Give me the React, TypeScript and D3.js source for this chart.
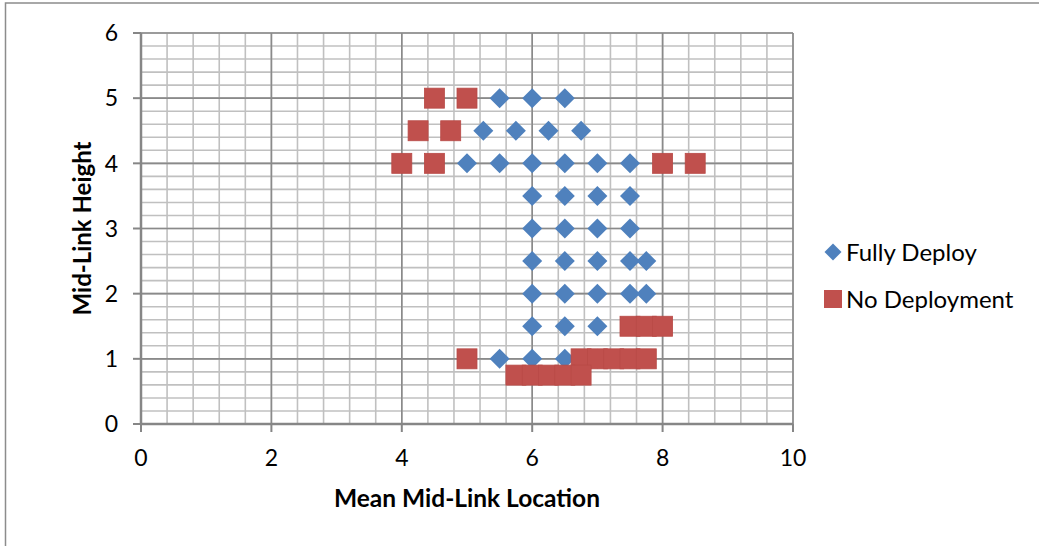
import React from "react";
import * as d3 from "d3";

const fullyDeployX = [5.5, 6, 6.5, 5.25, 5.75, 6.25, 6.75, 5, 5.5, 6, 6.5, 7, 7.5, 6, 6.5, 7, 7.5, 6, 6.5, 7, 7.5, 6, 6.5, 7, 7.5, 7.75, 6, 6.5, 7, 7.5, 7.75, 6, 6.5, 7, 5.5, 6, 6.5, 7, 7.5];
const fullyDeployY = [5, 5, 5, 4.5, 4.5, 4.5, 4.5, 4, 4, 4, 4, 4, 4, 3.5, 3.5, 3.5, 3.5, 3, 3, 3, 3, 2.5, 2.5, 2.5, 2.5, 2.5, 2, 2, 2, 2, 2, 1.5, 1.5, 1.5, 1, 1, 1, 1, 1];

const noDeployX = [4.5, 5, 4.25, 4.75, 4, 4.5, 8, 8.5, 7.5, 7.75, 8, 5, 6.75, 7, 7.25, 7.5, 7.75, 5.75, 6, 6.25, 6.5, 6.75];
const noDeployY = [5, 5, 4.5, 4.5, 4, 4, 4, 4, 1.5, 1.5, 1.5, 1, 1, 1, 1, 1, 1, 0.75, 0.75, 0.75, 0.75, 0.75];

const xTicks = [0, 2, 4, 6, 8, 10];
const yTicks = [0, 1, 2, 3, 4, 5, 6];
const seriesNames = ["Fully Deploy", "No Deployment"];
const xTitle = "Mean Mid-Link Location";
const yTitle = "Mid-Link Height";

const W = 1039;
const H = 546;
const FONT = "Lato, 'Open Sans', sans-serif";

export default function App() {
  const x = d3.scaleLinear().domain([0, 10]).range([141, 793]);
  const y = d3.scaleLinear().domain([0, 6]).range([424, 33]);

  const minorX = d3.range(0, 10.0001, 0.4);
  const minorY = d3.range(0, 6.0001, 0.2);
  const blue = "#4F81BD";
  const red = "#C0504D";
  const dHalf = 10;
  const sq = 20;

  const diamond = (cx: number, cy: number, r: number) =>
    `M${cx},${cy - r}L${cx + r},${cy}L${cx},${cy + r}L${cx - r},${cy}Z`;

  return (
    <svg width={W} height={H} style={{ position: "absolute", left: 0, top: 0, background: "#fff" }} fontFamily={FONT}>
      <rect x={5.5} y={3} width={W + 10} height={H + 10} fill="#fff" stroke="#8c8c8c" strokeWidth={1.5} />
      {/* minor grid */}
      {minorX.map((v, i) => (
        <line key={"mx" + i} x1={x(v)} x2={x(v)} y1={y(0)} y2={y(6)} stroke="#c0c0c0" strokeWidth={1.6} />
      ))}
      {minorY.map((v, i) => (
        <line key={"my" + i} x1={x(0)} x2={x(10)} y1={y(v)} y2={y(v)} stroke="#c0c0c0" strokeWidth={1.6} />
      ))}
      {/* major grid */}
      {xTicks.map((v) => (
        <line key={"Mx" + v} x1={x(v)} x2={x(v)} y1={y(0)} y2={y(6)} stroke="#8a8a8a" strokeWidth={1.6} />
      ))}
      {yTicks.map((v) => (
        <line key={"My" + v} x1={x(0)} x2={x(10)} y1={y(v)} y2={y(v)} stroke="#8a8a8a" strokeWidth={1.6} />
      ))}
      {/* axes */}
      <line x1={x(0)} x2={x(0)} y1={y(0)} y2={y(6)} stroke="#868686" strokeWidth={2.5} />
      <line x1={x(0)} x2={x(10)} y1={y(0)} y2={y(0)} stroke="#868686" strokeWidth={2.5} />
      {yTicks.map((v) => (
        <g key={"yt" + v}>
          <line x1={x(0) - 8} x2={x(0)} y1={y(v)} y2={y(v)} stroke="#868686" strokeWidth={2} />
          <text x={118} y={y(v)} dy="0.36em" textAnchor="end" fontSize={23} fill="#000">{v}</text>
        </g>
      ))}
      {xTicks.map((v) => (
        <g key={"xt" + v}>
          <line x1={x(v)} x2={x(v)} y1={y(0)} y2={y(0) + 8} stroke="#868686" strokeWidth={2} />
          <text x={x(v)} y={458} dy="0.36em" textAnchor="middle" fontSize={23} fill="#000">{v}</text>
        </g>
      ))}
      {/* series */}
      {fullyDeployX.map((v, i) => (
        <path key={"fd" + i} d={diamond(x(v), y(fullyDeployY[i]), dHalf)} fill={blue} />
      ))}
      {noDeployX.map((v, i) => (
        <rect key={"nd" + i} x={x(v) - sq / 2} y={y(noDeployY[i]) - sq / 2} width={sq} height={sq} fill={red} stroke="#b84a47" strokeWidth={0.8} />
      ))}
      {/* titles */}
      <text x={467} y={498} dy="0.36em" textAnchor="middle" fontSize={24.5} fontWeight="bold" fill="#000">{xTitle}</text>
      <text transform={`translate(82,${(y(0) + y(6)) / 2}) rotate(-90)`} dy="0.36em" textAnchor="middle" fontSize={24} fontWeight="bold" fill="#000">{yTitle}</text>
      {/* legend */}
      <path d={diamond(833, 252, 8.5)} fill={blue} />
      <text x={846} y={252} dy="0.36em" fontSize={24} fill="#000">{seriesNames[0]}</text>
      <rect x={824} y={290} width={18} height={18} fill={red} />
      <text x={846} y={299} dy="0.36em" fontSize={24} fill="#000">{seriesNames[1]}</text>
    </svg>
  );
}
